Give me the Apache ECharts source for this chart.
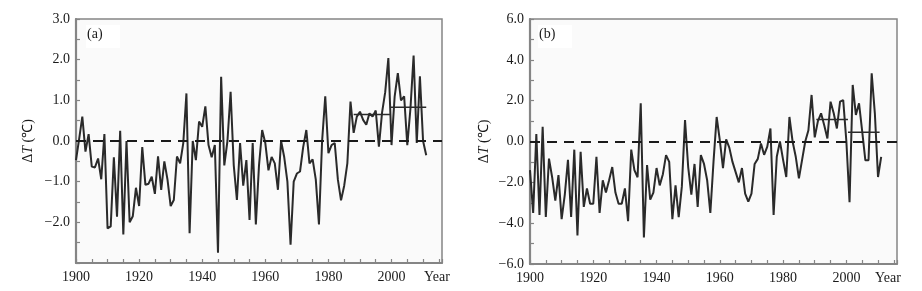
<!DOCTYPE html>
<html>
<head>
<meta charset="utf-8">
<script src="https://cdn.jsdelivr.net/npm/echarts@6/dist/echarts.min.js"></script>
<style>
  html, body { margin: 0; background: #fff; }
  #chart { width: 922px; height: 291px; }
</style>
</head>
<body>
<div id="chart"></div>
<script>
var firstYear = 1900

// (a) annual anomaly, 1900-2011
var anomalyA = [
  -0.47, 0.05, 0.6, -0.26, 0.17, -0.63, -0.65, -0.43, -0.94, 0.17,
  -2.15, -2.1, -0.4, -1.86, 0.25, -2.3, 0.0, -2.0, -1.85, -1.15,
  -1.6, -0.15, -1.08, -1.05, -0.88, -1.3, -0.38, -1.2, -0.5, -0.95,
  -1.6, -1.45, -0.38, -0.55, -0.05, 1.17, -2.27, 0.0, -0.47, 0.48,
  0.35, 0.85, -0.1, -0.4, -0.1, -2.75, 1.58, -0.6, 0.0, 1.21,
  -0.6, -1.45, -0.05, -1.1, -0.47, -1.94, -0.05, -2.05, -0.6, 0.27,
  -0.05, -0.72, -0.39, -0.55, -1.2, 0.0, -0.4, -1.0, -2.55, -1.0,
  -0.8, -0.75, -0.15, 0.27, -0.55, -0.45, -0.95, -2.05, 0.0, 1.1,
  -0.3, -0.1, -0.05, -0.95, -1.46, -1.1, -0.55, 0.97, 0.2, 0.6,
  0.72, 0.52, 0.4, 0.68, 0.6, 0.75, -0.14, 0.7, 1.2, 2.04,
  -0.1, 1.1, 1.67, 1.0, 1.1, -0.1, 0.8, 2.1, -0.05, 1.59,
  0.0, -0.35
]

// (b) annual anomaly, 1900-2011
var anomalyB = [
  -1.4, -3.5, 0.36, -3.6, 0.72, -3.7, -0.84, -1.75, -2.9, -1.65,
  -3.8, -2.6, -0.9, -3.7, -0.4, -4.6, -0.5, -3.2, -2.3, -3.05,
  -3.05, -0.75, -3.5, -1.9, -2.5, -1.9, -1.25, -2.5, -3.05, -3.05,
  -2.3, -3.9, -0.4, -1.4, -1.75, 1.87, -4.7, -1.15, -2.85, -2.5,
  -1.3, -2.15, -1.6, -0.67, -1.0, -3.8, -2.15, -3.7, -2.2, 1.05,
  -1.25, -2.6, -1.1, -3.2, -0.67, -1.1, -1.9, -3.5, -1.0, 1.2,
  0.05, -1.3, 0.1, -0.3, -1.0, -1.5, -2.0, -1.3, -2.55, -2.95,
  -2.55, -1.1, -0.85, -0.1, -0.65, -0.25, 0.64, -3.6, -0.75, 0.0,
  -0.9, -1.74, 1.2, 0.0, -0.75, -1.8, -0.9, 0.0, 0.55, 2.28,
  0.2, 1.0, 1.38, 0.8, 0.15, 1.95, 1.38, 0.64, 1.95, 2.03,
  0.0, -2.97, 2.77, 1.3, 1.87, 0.5, -0.92, -0.92, 3.34, 1.38,
  -1.74, -0.75
]

// period means: [from, to, value]
var meansA = [[1988, 1999.5, 0.65], [1999.5, 2011, 0.83]]
var meansB = [[1990.5, 2000.5, 1.08], [2000.5, 2010.5, 0.45]]

var yTicksA = { min: -3, max: 3, step: 1 }
var yTicksB = { min: -6, max: 6, step: 2 }

var font = 'Liberation Serif'
var ink = '#2a2a2a'
var frame = '#858585'

function pairs(values) {
  return values.map(function (v, i) { return [firstYear + i, v] })
}

function fmtY(v) {
  return v.toFixed(1).replace('-', '\u2212')
}

function xAxis(idx, nameGap) {
  return {
    gridIndex: idx,
    type: 'value',
    min: 1900,
    max: 2016,
    interval: 5,
    axisLine: { onZero: false, lineStyle: { color: frame, width: 2 } },
    axisTick: { inside: true, length: 4, lineStyle: { color: frame, width: 1.2 } },
    axisLabel: {
      margin: 7,
      color: '#1a1a1a',
      fontFamily: font,
      fontSize: 14,
      formatter: function (v) { return v % 20 === 0 ? String(v) : '' }
    },
    splitLine: { show: false },
    name: 'Year',
    nameLocation: 'end',
    nameGap: nameGap,
    nameMoveOverlap: false,
    nameTextStyle: {
      color: '#1a1a1a', fontFamily: font, fontSize: 14,
      align: 'center', verticalAlign: 'top', padding: [7, 0, 0, 0]
    }
  }
}

function yAxis(idx, t, showMin, nameGap) {
  return {
    gridIndex: idx,
    type: 'value',
    min: t.min,
    max: t.max,
    interval: t.step,
    axisLine: { show: true, onZero: false, lineStyle: { color: frame, width: 2.2 } },
    axisTick: { inside: true, length: 4, lineStyle: { color: frame, width: 1.2 } },
    minorTick: { show: true, splitNumber: 2, length: 4, lineStyle: { color: frame, width: 1.2 } },
    axisLabel: {
      margin: 6,
      color: '#1a1a1a',
      fontFamily: font,
      fontSize: 14,
      showMinLabel: showMin,
      formatter: fmtY
    },
    splitLine: { show: false },
    name: '{n|\u0394}{i|T}{n| (\u2103)}',
    nameLocation: 'middle',
    nameRotate: 90,
    nameGap: nameGap,
    nameTextStyle: {
      rich: {
        n: { fontFamily: font, fontSize: 14, color: '#1a1a1a' },
        i: { fontFamily: font, fontSize: 14, fontStyle: 'italic', color: '#1a1a1a' }
      }
    }
  }
}

function lineSeries(idx, values) {
  return {
    type: 'line',
    xAxisIndex: idx,
    yAxisIndex: idx,
    data: pairs(values),
    showSymbol: false,
    lineStyle: { color: ink, width: 2 },
    z: 3,
    markLine: {
      silent: true,
      symbol: 'none',
      label: { show: false },
      lineStyle: { type: [10, 7], color: '#1a1a1a', width: 2 },
      data: [{ yAxis: 0 }]
    }
  }
}

function meanSeries(idx, means) {
  return means.map(function (m) {
    return {
      type: 'line',
      xAxisIndex: idx,
      yAxisIndex: idx,
      data: [[m[0], m[2]], [m[1], m[2]]],
      showSymbol: false,
      lineStyle: { color: ink, width: 1.5 },
      z: 4
    }
  })
}

function panelTag(x, text) {
  return [
    { type: 'rect', left: x, top: 25, shape: { width: 34, height: 23 }, style: { fill: '#fff' }, z: 10 },
    { type: 'text', left: x + 1, top: 27, style: { text: text, font: '14px "Liberation Serif"', fill: '#1a1a1a' }, z: 11 }
  ]
}

var chart = echarts.init(document.getElementById('chart'))
chart.setOption({
  animation: false,
  backgroundColor: '#fff',
  grid: [
    { left: 76, top: 19, width: 366, height: 244, show: true, borderColor: frame, borderWidth: 1.5, backgroundColor: '#fafafa' },
    { left: 530, top: 19, width: 367, height: 245, show: true, borderColor: frame, borderWidth: 1.5, backgroundColor: '#fafafa' }
  ],
  xAxis: [xAxis(0, -5), xAxis(1, -9)],
  yAxis: [yAxis(0, yTicksA, false, 41), yAxis(1, yTicksB, true, 39)],
  graphic: panelTag(86, '(a)').concat(panelTag(538, '(b)')),
  series: [lineSeries(0, anomalyA), lineSeries(1, anomalyB)]
    .concat(meanSeries(0, meansA))
    .concat(meanSeries(1, meansB))
})
</script>
</body>
</html>
